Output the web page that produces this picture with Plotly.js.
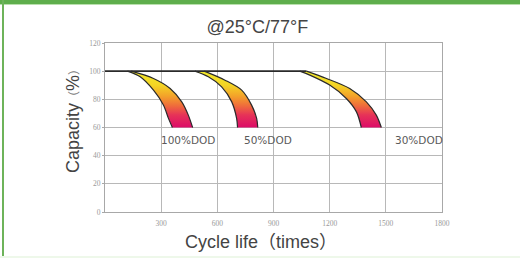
<!DOCTYPE html>
<html>
<head>
<meta charset="utf-8">
<script src="https://cdn.plot.ly/plotly-3.0.1.min.js"></script>
<style>
html,body{margin:0;padding:0;background:#fff;}
#wrap{position:relative;width:520px;height:258px;overflow:hidden;background:#fff;}
#chart{position:absolute;left:0;top:0;width:520px;height:258px;}
.gtop{position:absolute;left:0;top:0;width:520px;height:4px;background:#5fae4c;}
.gtop2{position:absolute;left:0;top:4px;width:520px;height:1px;background:#b9e0ad;}
.gleft{position:absolute;left:2px;top:0;width:2px;height:258px;background:#6db35a;}
.gbot{position:absolute;left:0;top:256px;width:520px;height:2px;background:#eef8ea;}
</style>
</head>
<body>
<div id="wrap">
<div id="chart"></div>
<div class="gtop"></div><div class="gtop2"></div><div class="gleft"></div><div class="gbot"></div>
</div>
<script>
// Axis ticks
var xTicks = [300, 600, 900, 1200, 1500, 1800];
var yTicks = [0, 20, 40, 60, 80, 100, 120];

// 100%DOD band edges (cycles, capacity %)
var dod100OuterX = [120, 188, 259, 312, 339, 360];
var dod100OuterY = [100, 96, 86.5, 76, 66.5, 60];
var dod100InnerX = [140, 259, 348, 410, 445, 468];
var dod100InnerY = [100, 94.8, 87.7, 78.2, 68.8, 60];

// 50%DOD band edges
var dod50OuterX = [480, 552, 623, 677, 703, 708];
var dod50OuterY = [100, 96, 88.9, 78.2, 66.5, 60];
var dod50InnerX = [530, 641, 730, 783, 810, 816];
var dod50InnerY = [100, 93.6, 86.5, 75.9, 66.5, 60];

// 30%DOD band edges
var dod30OuterX = [1040, 1094, 1200, 1289, 1343, 1369];
var dod30OuterY = [100, 97.2, 90.1, 80.6, 71.1, 60];
var dod30InnerX = [1076, 1183, 1307, 1396, 1449, 1476];
var dod30InnerY = [100, 94.8, 87.7, 78.2, 68.8, 60];

// Flat 100% segment before fade
var flatX = [0, 1076];
var flatY = [100, 100];

// Band labels
var labelText = ["100%DOD", "50%DOD", "30%DOD"];
var labelX = [445, 871, 1676];
var labelY = [51, 51, 51];

var gradScale = [[0, '#f2ea2c'], [0.25, '#f4d424'], [0.45, '#f3a02a'], [0.62, '#ef6a3c'], [0.78, '#e63258'], [1, '#dc0c68']];
var SM = 0.9;

function band(ox, oy, ix, iy) {
  var n = ox.length - 1;
  // closed outline: outer top->bottom, corner repeated (sharp), inner bottom->top
  var fx = ox.concat([ox[n]], ix.slice().reverse().slice(0, 1), ix.slice().reverse());
  var fy = oy.concat([oy[n]], iy.slice().reverse().slice(0, 1), iy.slice().reverse());
  var edge = {color: '#2a2a2a', width: 1.2, shape: 'spline', smoothing: SM, simplify: false};
  return [
    {x: fx, y: fy, type: 'scatter', mode: 'lines', fill: 'toself',
      line: {color: 'rgba(0,0,0,0)', width: 0, shape: 'spline', smoothing: SM, simplify: false},
      fillgradient: {type: 'vertical', colorscale: gradScale, start: 100, stop: 60},
      hoverinfo: 'skip', showlegend: false},
    {x: ox, y: oy, type: 'scatter', mode: 'lines', line: edge, hoverinfo: 'skip', showlegend: false},
    {x: ix, y: iy, type: 'scatter', mode: 'lines', line: edge, hoverinfo: 'skip', showlegend: false}
  ];
}

var traces = [].concat(
  band(dod100OuterX, dod100OuterY, dod100InnerX, dod100InnerY),
  band(dod50OuterX, dod50OuterY, dod50InnerX, dod50InnerY),
  band(dod30OuterX, dod30OuterY, dod30InnerX, dod30InnerY),
  [{x: flatX, y: flatY, type: 'scatter', mode: 'lines', line: {color: '#2a2a2a', width: 1.6}, hoverinfo: 'skip', showlegend: false}]
);

var annotations = labelText.map(function (t, i) {
  return {x: labelX[i], y: labelY[i], xref: 'x', yref: 'y', text: t, showarrow: false,
    font: {family: 'DejaVu Sans, Arial', size: 10.5, color: '#5a5a5a'}};
});
annotations.push({
  xref: 'paper', yref: 'paper', x: 0.231, y: -0.178, xanchor: 'left', yanchor: 'middle',
  text: 'Cycle life（times）', showarrow: false,
  font: {family: 'Arial, Liberation Sans, Noto Sans CJK SC', size: 18, color: '#444'}
});
annotations.push({
  xref: 'paper', yref: 'paper', x: -0.095, y: 0.556, xanchor: 'center', yanchor: 'middle', textangle: -90,
  text: 'Capacity<span style="font-size:12px;color:#777">（</span>%<span style="font-size:12px;color:#777">）</span>', showarrow: false,
  font: {family: 'Arial, Liberation Sans, Noto Sans CJK SC', size: 18, color: '#444'}
});

var layout = {
  width: 520, height: 258,
  margin: {l: 105, r: 77.5, t: 43, b: 46, pad: 0},
  paper_bgcolor: 'rgba(0,0,0,0)', plot_bgcolor: '#fff',
  title: {text: '@25°C/77°F', x: 0.495, xanchor: 'center', y: 0.895, yanchor: 'middle',
    font: {family: 'Arial, Liberation Sans', size: 18, color: '#444'}},
  xaxis: {
    range: [0, 1800], tickvals: xTicks, ticktext: xTicks.map(String),
    showgrid: true, gridcolor: '#b8b8b8', gridwidth: 1,
    showline: true, linecolor: '#a8a8a8', linewidth: 1, mirror: true,
    ticks: '', zeroline: false, ticklabelstandoff: 4,
    tickfont: {family: 'Liberation Serif, serif', size: 7.5, color: '#999'}
  },
  yaxis: {
    range: [0, 120], tickvals: yTicks, ticktext: yTicks.map(String),
    showgrid: true, gridcolor: '#b8b8b8', gridwidth: 1,
    showline: true, linecolor: '#a8a8a8', linewidth: 1, mirror: true,
    ticks: 'outside', ticklen: 2, tickcolor: '#a8a8a8', zeroline: false,
    tickfont: {family: 'Liberation Serif, serif', size: 7.5, color: '#999'}
  },
  annotations: annotations
};

Plotly.newPlot('chart', traces, layout, {staticPlot: true, displayModeBar: false});
</script>
</body>
</html>
